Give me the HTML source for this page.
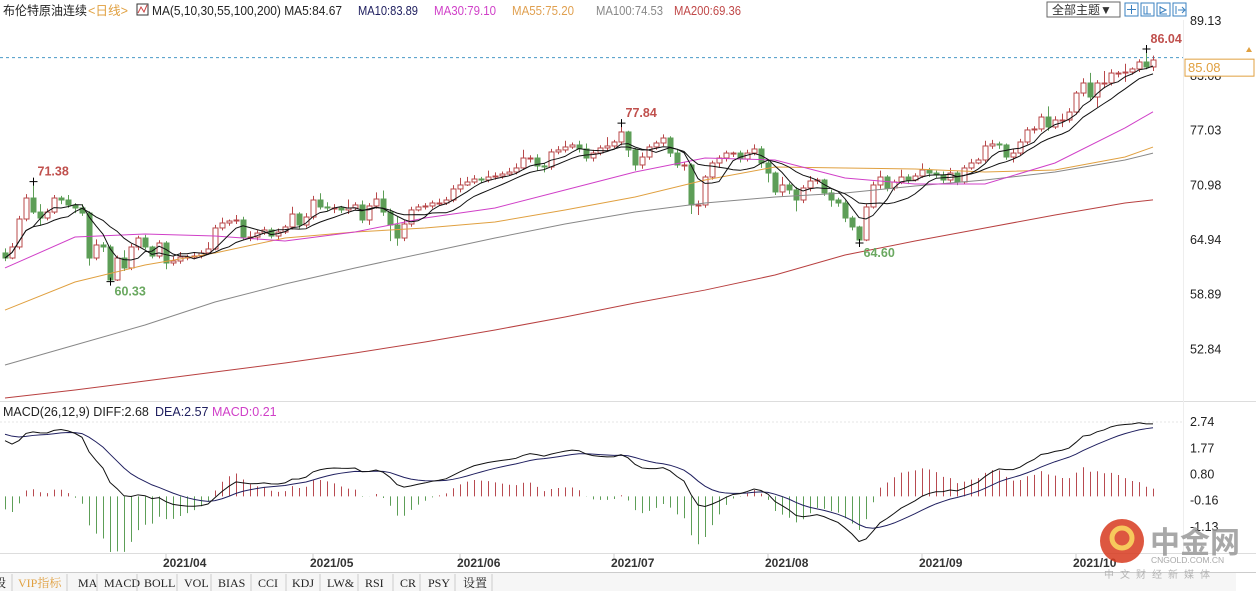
<!DOCTYPE html>
<html><head><meta charset="utf-8"><style>
html,body{margin:0;padding:0;background:#fff;}
svg{display:block;font-family:"Liberation Sans","Noto Sans CJK SC",sans-serif;}
</style></head><body>
<svg id="c" width="1256" height="591" viewBox="0 0 1256 591" xmlns="http://www.w3.org/2000/svg">
<rect x="0" y="0" width="1256" height="591" fill="#fff"/>
<g font-size="12.5">
<text x="3" y="15" fill="#222" textLength="84" lengthAdjust="spacingAndGlyphs">布伦特原油连续</text>
<text x="88" y="15" fill="#e0a040" textLength="40" lengthAdjust="spacingAndGlyphs">&lt;日线&gt;</text>
<rect x="137" y="4" width="11" height="11" fill="none" stroke="#333"/>
<path d="M138 13 L141 7 L144 12 L147 5" stroke="#c44" fill="none"/>
<text x="152" y="15" fill="#222" textLength="190" lengthAdjust="spacingAndGlyphs">MA(5,10,30,55,100,200) MA5:84.67</text>
<text x="358" y="15" fill="#202060" textLength="60" lengthAdjust="spacingAndGlyphs">MA10:83.89</text>
<text x="434" y="15" fill="#d040c8" textLength="62" lengthAdjust="spacingAndGlyphs">MA30:79.10</text>
<text x="512" y="15" fill="#e0a050" textLength="62" lengthAdjust="spacingAndGlyphs">MA55:75.20</text>
<text x="596" y="15" fill="#888" textLength="67" lengthAdjust="spacingAndGlyphs">MA100:74.53</text>
<text x="674" y="15" fill="#c04848" textLength="67" lengthAdjust="spacingAndGlyphs">MA200:69.36</text>
</g>
<g>
<rect x="1047" y="2" width="73" height="15" fill="#fff" stroke="#666"/>
<text x="1052" y="14" font-size="12" fill="#333">全部主题▼</text>
<rect x="1125" y="3" width="13" height="13" fill="#fff" stroke="#3a80c0"/>
<rect x="1141" y="3" width="13" height="13" fill="#fff" stroke="#3a80c0"/>
<rect x="1157" y="3" width="13" height="13" fill="#fff" stroke="#3a80c0"/>
<rect x="1173" y="3" width="13" height="13" fill="#fff" stroke="#3a80c0"/>
<path d="M1131.5 5v9M1127 9.5h9M1144 6v8h7M1147 6v8M1160 6v8h7M1160 7l6 3-6 3M1176 6v8M1178 10h6M1182 7l3 3-3 3" stroke="#3a80c0" fill="none"/>
</g>
<line x1="0" y1="401.5" x2="1256" y2="401.5" stroke="#ddd"/>
<line x1="0" y1="553.5" x2="1256" y2="553.5" stroke="#ddd"/>
<line x1="0" y1="572.5" x2="1256" y2="572.5" stroke="#ccc"/>
<line x1="1183.5" y1="20" x2="1183.5" y2="553" stroke="#eee"/>
<g id="main"></g>
<g id="macd"></g>
<g id="axis"></g>
<text x="3" y="416" font-size="12.5" fill="#222">MACD(26,12,9) DIFF:2.68</text>
<text x="155" y="416" font-size="12.5" fill="#202060">DEA:2.57</text>
<text x="212" y="416" font-size="12.5" fill="#d040c8">MACD:0.21</text>
<g font-family="Liberation Serif,'Noto Serif CJK SC',serif" font-size="12" fill="#222">
<rect x="0" y="573" width="1236" height="18" fill="#f6f6f6"/>
<text x="-6" y="587">段</text>
<text x="18" y="587" fill="#e0a040">VIP指标</text>
<text x="78" y="587">MA</text>
<text x="104" y="587">MACD</text>
<text x="144" y="587">BOLL</text>
<text x="184" y="587">VOL</text>
<text x="218" y="587">BIAS</text>
<text x="258" y="587">CCI</text>
<text x="292" y="587">KDJ</text>
<text x="327" y="587">LW&amp;</text>
<text x="365" y="587">RSI</text>
<text x="400" y="587">CR</text>
<text x="428" y="587">PSY</text>
<text x="463" y="587">设置</text>
<path d="M12 574v17M67 574v17M97 574v17M137 574v17M177 574v17M211 574v17M251 574v17M286 574v17M320 574v17M358 574v17M393 574v17M420 574v17M455 574v17M492 574v17" stroke="#ccc"/>
</g>
<g opacity="0.85">
<circle cx="1122" cy="541" r="22" fill="#d83a1f"/>
<circle cx="1122" cy="538" r="10" fill="none" stroke="#f6c040" stroke-width="5"/>
<text x="1150" y="553" font-size="30" font-weight="bold" fill="#999" font-family="'Noto Sans CJK SC',sans-serif">中金网</text>
<text x="1151" y="563" font-size="8.5" fill="#999">CNGOLD.COM.CN</text>
<text x="1104" y="578" font-size="10" fill="#aaa" letter-spacing="6" font-family="'Noto Sans CJK SC',sans-serif">中文财经新媒体</text>
</g>
</svg>
<script>
const closes=[62.94,64.16,67.25,69.57,68.02,67.36,68.02,69.57,69.35,68.80,68.47,67.91,62.94,64.38,64.16,60.51,62.94,61.84,64.16,65.15,64.16,63.16,64.60,62.39,62.61,63.05,63.05,63.16,63.50,63.94,66.26,66.81,67.03,67.14,65.26,65.26,65.70,66.04,65.37,65.81,66.37,67.80,66.59,67.47,69.35,68.58,68.47,68.47,68.25,68.47,68.80,67.14,68.69,69.46,68.02,66.59,65.15,66.70,68.25,68.58,68.69,69.02,69.02,69.35,70.57,71.01,71.34,71.67,71.56,71.89,72.00,72.22,72.44,72.89,73.99,73.99,73.11,73.00,74.66,74.88,75.21,75.43,74.99,73.99,74.54,75.10,75.32,75.76,76.87,74.88,73.22,74.10,75.21,75.65,76.20,74.54,73.22,73.22,68.80,68.80,71.89,73.44,73.99,74.54,74.54,73.88,74.54,74.99,73.44,72.33,70.24,71.01,70.46,69.35,70.68,71.45,71.56,70.13,69.35,69.02,67.36,66.37,64.93,68.58,71.01,71.89,70.68,71.34,71.89,71.56,72.00,72.67,72.33,72.11,71.56,72.33,71.34,72.89,73.44,73.77,75.32,75.54,75.43,74.10,74.54,75.76,77.09,77.20,78.52,77.42,78.19,78.19,79.07,81.17,82.28,80.73,82.28,82.28,83.38,83.38,83.49,83.83,84.60,84.05,84.82];
const opens=[63.50,62.94,64.16,67.25,69.57,68.02,67.36,68.02,69.57,69.35,68.80,68.47,67.91,62.94,64.38,64.16,60.51,62.94,61.84,64.16,65.15,64.16,63.16,64.60,62.39,62.61,63.05,63.05,63.16,63.50,63.94,66.26,66.81,67.03,67.14,65.26,65.26,65.70,66.04,65.37,65.81,66.37,67.80,66.59,67.47,69.35,68.58,68.47,68.47,68.25,68.47,68.80,67.14,68.69,69.46,68.02,66.59,65.15,66.70,68.25,68.58,68.69,69.02,69.02,69.35,70.57,71.01,71.34,71.67,71.56,71.89,72.00,72.22,72.44,72.89,73.99,73.99,73.11,73.00,74.66,74.88,75.21,75.43,74.99,73.99,74.54,75.10,75.32,75.76,76.87,74.88,73.22,74.10,75.21,75.65,76.20,74.54,73.22,73.22,68.80,68.80,71.89,73.44,73.99,74.54,74.54,73.88,74.54,74.99,73.44,72.33,70.24,71.01,70.46,69.35,70.68,71.45,71.56,70.13,69.35,69.02,67.36,66.37,64.93,68.58,71.01,71.89,70.68,71.34,71.89,71.56,72.00,72.67,72.33,72.11,71.56,72.33,71.34,72.89,73.44,73.77,75.32,75.54,75.43,74.10,74.54,75.76,77.09,77.20,78.52,77.42,78.19,78.19,79.07,81.17,82.28,80.73,82.28,82.28,83.38,83.38,83.49,83.83,84.60,84.05];
const highs=[64.0,64.6,67.6,70.0,71.38,68.9,68.4,69.9,69.8,69.9,69.0,68.9,68.1,65.0,64.7,64.4,63.2,63.8,64.5,65.4,65.5,64.3,64.9,64.8,63.1,63.6,63.3,63.6,63.8,64.7,66.6,67.4,67.2,67.7,67.5,65.9,66.0,66.4,66.3,66.2,66.6,68.6,68.0,67.9,69.8,70.1,69.1,68.9,68.7,69.4,69.1,69.3,69.0,70.2,70.4,68.4,67.5,67.1,68.6,68.9,69.0,69.3,69.5,69.7,71.0,71.8,71.9,72.1,71.9,72.6,72.4,72.5,72.9,73.4,74.9,74.3,74.4,73.4,75.0,75.3,75.9,75.7,75.9,75.6,74.9,75.4,76.3,76.0,77.84,77.0,75.1,74.6,75.5,75.9,76.6,76.4,75.0,73.5,73.4,69.3,72.1,73.7,74.3,74.8,74.7,74.8,74.9,75.5,75.3,73.8,72.5,71.9,71.3,70.8,71.0,72.0,71.8,71.7,70.5,69.6,69.3,67.6,66.5,68.9,71.4,72.6,72.1,71.6,72.7,72.2,72.3,73.4,72.9,72.6,72.5,72.9,72.6,73.2,73.9,74.0,75.9,76.0,75.8,75.6,75.0,76.1,77.4,77.5,78.9,79.7,78.6,78.9,79.5,81.4,82.8,83.4,82.6,83.6,83.8,83.6,84.4,84.0,84.9,86.04,85.3];
const lows=[62.6,62.8,63.9,67.0,67.8,66.5,67.1,67.8,68.9,68.5,67.9,67.6,62.1,62.7,63.6,60.33,60.4,61.5,61.6,63.8,63.9,62.9,62.9,61.7,62.1,62.3,62.7,62.8,62.9,63.3,63.8,66.0,66.5,66.7,64.9,64.8,64.9,65.5,65.1,64.9,65.6,66.1,66.2,66.3,67.2,68.3,68.1,67.9,67.9,67.8,68.2,66.8,66.6,68.4,67.6,64.8,64.3,64.8,66.4,68.1,68.3,68.4,68.7,68.8,69.1,70.2,70.9,71.1,71.2,71.3,71.6,71.7,72.0,72.2,72.7,73.5,72.6,72.4,72.7,74.4,74.6,75.0,74.6,73.6,73.6,74.3,74.8,75.1,75.4,74.1,72.6,72.8,73.8,74.9,75.3,74.1,72.9,72.6,67.8,67.7,68.5,71.6,72.9,73.6,74.1,73.5,73.6,74.3,72.9,71.3,69.9,69.8,70.0,68.1,69.0,70.3,71.1,69.8,68.6,68.6,66.9,66.0,64.60,64.8,68.4,70.6,70.3,70.4,71.1,71.1,71.4,71.8,71.9,71.8,71.2,71.3,71.0,71.1,72.7,73.3,73.5,75.0,75.0,73.8,73.5,74.3,75.5,76.7,76.9,77.0,77.2,77.4,77.9,78.8,80.8,80.3,79.6,81.7,82.0,82.9,82.4,83.2,83.5,83.8,83.6];
const maIdx=[0,10,20,30,40,50,60,70,80,90,100,110,120,130,140,150,160,164];
const ma30=[61.84,65.26,65.59,65.37,64.82,65.81,67.36,68.47,70.46,72.44,73.99,73.77,71.78,71.12,71.12,73.44,77.31,79.10];
const ma55=[57.19,60.29,62.17,63.50,65.15,65.81,66.26,66.92,68.25,69.68,71.56,73.00,72.89,72.78,72.44,72.67,74.10,75.20];
const ma100=[51.12,53.33,55.54,58.08,60.07,61.84,63.50,65.15,66.70,68.02,69.02,69.68,70.13,70.90,71.56,72.44,73.77,74.53];
const ma200=[47.47,48.35,49.35,50.34,51.34,52.45,53.66,54.99,56.42,57.97,59.40,61.06,63.27,64.82,66.26,67.69,69.02,69.36];
const priceTicks=[89.13,83.08,77.03,70.98,64.94,58.89,52.84];
const macdTicks=[2.74,1.77,0.80,-0.16,-1.13];
const monthLabels=["2021/04","2021/05","2021/06","2021/07","2021/08","2021/09","2021/10"];
const monthStartIdx=[23,44,65,87,109,131,153];
const markIdx=[4,15,88,122,163];
const markVal=[71.38,60.33,77.84,64.60,86.04];
const lastPrice=85.08;

const NS="http://www.w3.org/2000/svg";
const X=i=>5+i*7;
const Y=p=>21+(89.13-p)*9.05;
const MY=v=>422+(2.74-v)*27.13;
function mk(tag,attrs,parent){const e=document.createElementNS(NS,tag);for(const k in attrs)e.setAttribute(k,attrs[k]);parent.appendChild(e);return e;}
const main=document.getElementById('main'),macd=document.getElementById('macd'),axis=document.getElementById('axis');
const UP="#b8484a",DN="#5d9e57";

let dl=mk('line',{x1:0,y1:Y(lastPrice),x2:1183,y2:Y(lastPrice),stroke:"#4a9ac8","stroke-dasharray":"3,3"},main);



closes.forEach((c,i)=>{
  const o=opens[i],up=c>=o,col=up?UP:DN,x=X(i);
  const g=mk('g',{},main);
  
  
  mk('line',{x1:x+0.5,y1:Y(highs[i]),x2:x+0.5,y2:Y(lows[i]),stroke:col},g);
  const t=Math.min(Y(o),Y(c)),h=Math.max(1,Math.abs(Y(o)-Y(c)));
  mk('rect',{x:x-2,y:t,width:5,height:h,fill:up?"#fff":col,stroke:col,"stroke-width":1},g);
});

function line(pts,col,name,par){const p=mk('polyline',{points:pts.join(' '),fill:"none",stroke:col,"stroke-width":1},par);
  
  }
function sma(n){const r=[];for(let i=0;i<closes.length;i++){const s=Math.max(0,i-n+1);let t=0;for(let j=s;j<=i;j++)t+=closes[j];r.push(t/(i-s+1));}return r;}
line(ma200.map((v,k)=>X(maIdx[k])+','+Y(v)),"#b84040","ma200-line",main);
line(ma100.map((v,k)=>X(maIdx[k])+','+Y(v)),"#888","ma100-line",main);
line(ma55.map((v,k)=>X(maIdx[k])+','+Y(v)),"#e0a040","ma55-line",main);
line(ma30.map((v,k)=>X(maIdx[k])+','+Y(v)),"#d040c8","ma30-line",main);
line(sma(10).map((v,i)=>X(i)+','+Y(v)),"#111","ma10-line",main);
line(sma(5).map((v,i)=>X(i)+','+Y(v)),"#111","ma5-line",main);

markIdx.forEach((idx,k)=>{
  const v=markVal[k],x=X(idx)+0.5,y=Y(v),isHigh=v>=highs[idx]-0.001&&!(v<=lows[idx]+0.001);
  mk('path',{d:`M${x-4} ${y}h8M${x} ${y-4}v8`,stroke:"#000"},main);
  const t=mk('text',{x:x+4,y:isHigh?y-6:y+14,"font-size":12.5,"font-weight":"bold",fill:isHigh?"#c0504d":"#6aa860"},main);
  t.textContent=v.toFixed(2);
  
  
});

priceTicks.forEach(v=>{const t=mk('text',{x:1190,y:Y(v)+4,"font-size":12.5,fill:"#222"},axis);t.textContent=v.toFixed(2);
  
  });
const lb=mk('rect',{x:1185,y:Y(lastPrice)+1.5,width:69,height:17,fill:"#fff",stroke:"#e0a040"},axis);


const lt=mk('text',{x:1188,y:Y(lastPrice)+14.5,"font-size":13,fill:"#e0a040"},axis);lt.textContent=lastPrice.toFixed(2);
mk('path',{d:"M1246 52l3-5 3 5z",fill:"#e0a040"},axis);

let e12=closes[0]+1.0,e26=closes[0]-1.3,dea=2.35;const diff=[],deaA=[];
closes.forEach(c=>{e12=e12+(c-e12)*2/13;e26=e26+(c-e26)*2/27;const d=e12-e26;dea=dea+(d-dea)*2/10;diff.push(d);deaA.push(dea);});
mk('line',{x1:0,y1:MY(2.74),x2:1183,y2:MY(2.74),stroke:"#e6e6e6","stroke-dasharray":"2,2"},macd);
diff.forEach((d,i)=>{const h=2*(d-deaA[i]);const y0=MY(0),y1=Math.min(552,MY(h));
  const b=mk('line',{x1:X(i)+0.5,y1:y0,x2:X(i)+0.5,y2:y1,stroke:h>=0?"#b84a50":"#5d9e57"},macd);
  
  });
line(deaA.map((v,i)=>X(i)+','+MY(v)),"#202060","dea-line",macd);
line(diff.map((v,i)=>X(i)+','+MY(v)),"#111","diff-line",macd);
macdTicks.forEach(v=>{const t=mk('text',{x:1190,y:MY(v)+4,"font-size":12.5,fill:"#222"},axis);t.textContent=v.toFixed(2);
  
  });

monthLabels.forEach((m,k)=>{const x=X(monthStartIdx[k]);
  mk('line',{x1:x,y1:554,x2:x,y2:558,stroke:"#ccc"},axis);
  const t=mk('text',{x:x-3,y:567,"font-size":12,"font-weight":"bold",fill:"#333"},axis);t.textContent=m;
  
  });
</script>
</body></html>
